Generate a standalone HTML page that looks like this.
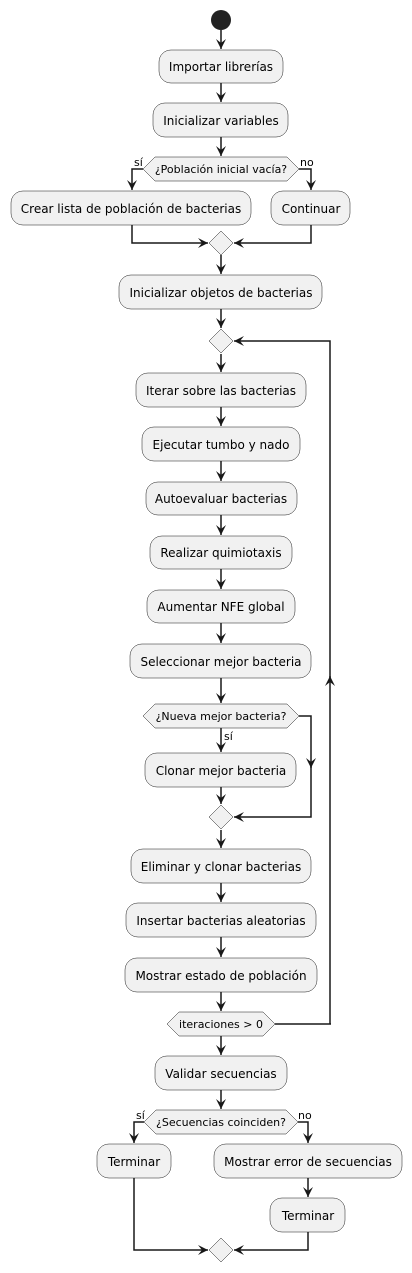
<!DOCTYPE html>
<html><head><meta charset="utf-8"><style>
html,body{margin:0;padding:0;background:#fff;}
svg{display:block;}
text{font-family:"DejaVu Sans","Liberation Sans",sans-serif;fill:#000;}
.b{fill:#f1f1f1;stroke:#181818;stroke-width:0.5;}
.l{fill:none;stroke:#181818;stroke-width:1.5;}
</style></head><body>
<svg width="412" height="1273" viewBox="0 0 412 1273" xmlns="http://www.w3.org/2000/svg">
<defs>
<marker id="a" markerWidth="12" markerHeight="12" refX="10" refY="5" orient="auto" markerUnits="userSpaceOnUse">
<path d="M0,0 L10,5 L0,10 L4,5 Z" fill="#181818"/>
</marker>
</defs>
<circle cx="221" cy="20" r="10" fill="#222"/>
<g class="l" marker-end="url(#a)">
<line x1="221" y1="30" x2="221" y2="49"/>
<line x1="221" y1="83" x2="221" y2="102"/>
<line x1="221" y1="137" x2="221" y2="156"/>
<polyline points="143,169 132,169 132,190"/>
<polyline points="299,169 311,169 311,190"/>
<polyline points="132,225 132,243 208,243"/>
<polyline points="311,225 311,243 234,243"/>
<line x1="221" y1="255" x2="221" y2="274"/>
<line x1="221" y1="309" x2="221" y2="328"/>
<line x1="221" y1="354" x2="221" y2="372"/>
<line x1="221" y1="407" x2="221" y2="426"/>
<line x1="221" y1="461" x2="221" y2="481"/>
<line x1="221" y1="515" x2="221" y2="535"/>
<line x1="221" y1="569" x2="221" y2="589"/>
<line x1="221" y1="623" x2="221" y2="643"/>
<line x1="221" y1="678" x2="221" y2="703"/>
<line x1="221" y1="728" x2="221" y2="752"/>
<line x1="221" y1="787" x2="221" y2="804"/>
<polyline points="299,716 311,716 311,768"/>
<polyline points="311,766 311,817 234,817"/>
<line x1="221" y1="830" x2="221" y2="848"/>
<line x1="221" y1="883" x2="221" y2="902"/>
<line x1="221" y1="937" x2="221" y2="957"/>
<line x1="221" y1="992" x2="221" y2="1011"/>
<polyline points="330,1024 330,676"/>
<polyline points="330,680 330,341 234,341"/>
<line x1="221" y1="1036" x2="221" y2="1055"/>
<line x1="221" y1="1090" x2="221" y2="1109"/>
<polyline points="144,1122 134,1122 134,1143"/>
<polyline points="298,1122 308,1122 308,1143"/>
<line x1="308" y1="1178" x2="308" y2="1197"/>
<polyline points="134,1178 134,1250 208,1250"/>
<polyline points="308,1232 308,1250 234,1250"/>
</g>
<line class="l" x1="275" y1="1024" x2="331" y2="1024"/>
<g class="b">
<rect x="159" y="50" width="124" height="33" rx="12"/>
<rect x="153" y="103" width="135" height="34" rx="12"/>
<polygon points="143,169 155,157 287,157 299,169 287,181 155,181"/>
<rect x="11" y="191" width="240" height="34" rx="12"/>
<rect x="271" y="191" width="79" height="34" rx="12"/>
<polygon points="221,231 233,243 221,255 209,243"/>
<rect x="119" y="275" width="203" height="34" rx="12"/>
<polygon points="221,329 233,341 221,353 209,341"/>
<rect x="136" y="373" width="170" height="34" rx="12"/>
<rect x="142" y="427" width="158" height="34" rx="12"/>
<rect x="146" y="482" width="151" height="33" rx="12"/>
<rect x="150" y="536" width="142" height="33" rx="12"/>
<rect x="147" y="590" width="148" height="33" rx="12"/>
<rect x="130" y="644" width="181" height="34" rx="12"/>
<polygon points="143,716 155,704 287,704 299,716 287,728 155,728"/>
<rect x="145" y="753" width="151" height="34" rx="12"/>
<polygon points="221,805 233,817 221,829 209,817"/>
<rect x="131" y="849" width="180" height="34" rx="12"/>
<rect x="126" y="903" width="190" height="34" rx="12"/>
<rect x="125" y="958" width="192" height="34" rx="12"/>
<polygon points="167,1024 179,1012 263,1012 275,1024 263,1036 179,1036"/>
<rect x="155" y="1056" width="132" height="34" rx="12"/>
<polygon points="144,1122 156,1110 286,1110 298,1122 286,1134 156,1134"/>
<rect x="97" y="1144" width="74" height="34" rx="12"/>
<rect x="214" y="1144" width="188" height="34" rx="12"/>
<rect x="270" y="1198" width="75" height="34" rx="12"/>
<polygon points="221,1238 233,1250 221,1262 209,1250"/>
</g>
<g font-size="12" text-anchor="middle">
<text x="221" y="71">Importar librerías</text>
<text x="221" y="125">Inicializar variables</text>
<text x="131" y="213">Crear lista de población de bacterias</text>
<text x="311" y="213">Continuar</text>
<text x="221" y="297">Inicializar objetos de bacterias</text>
<text x="221" y="395">Iterar sobre las bacterias</text>
<text x="221" y="449">Ejecutar tumbo y nado</text>
<text x="221" y="503">Autoevaluar bacterias</text>
<text x="221" y="557">Realizar quimiotaxis</text>
<text x="221" y="611">Aumentar NFE global</text>
<text x="221" y="666">Seleccionar mejor bacteria</text>
<text x="221" y="775">Clonar mejor bacteria</text>
<text x="221" y="871">Eliminar y clonar bacterias</text>
<text x="221" y="925">Insertar bacterias aleatorias</text>
<text x="221" y="980">Mostrar estado de población</text>
<text x="221" y="1078">Validar secuencias</text>
<text x="134" y="1166">Terminar</text>
<text x="308" y="1166">Mostrar error de secuencias</text>
<text x="308" y="1220">Terminar</text>
</g>
<g font-size="11" text-anchor="middle">
<text x="221" y="173">¿Población inicial vacía?</text>
<text x="221" y="720">¿Nueva mejor bacteria?</text>
<text x="221" y="1028">iteraciones &gt; 0</text>
<text x="221" y="1126">¿Secuencias coinciden?</text>
</g>
<g font-size="11">
<text x="134" y="166">sí</text>
<text x="300" y="166">no</text>
<text x="224" y="740">sí</text>
<text x="136" y="1119">sí</text>
<text x="298" y="1119">no</text>
</g>
</svg>
</body></html>
